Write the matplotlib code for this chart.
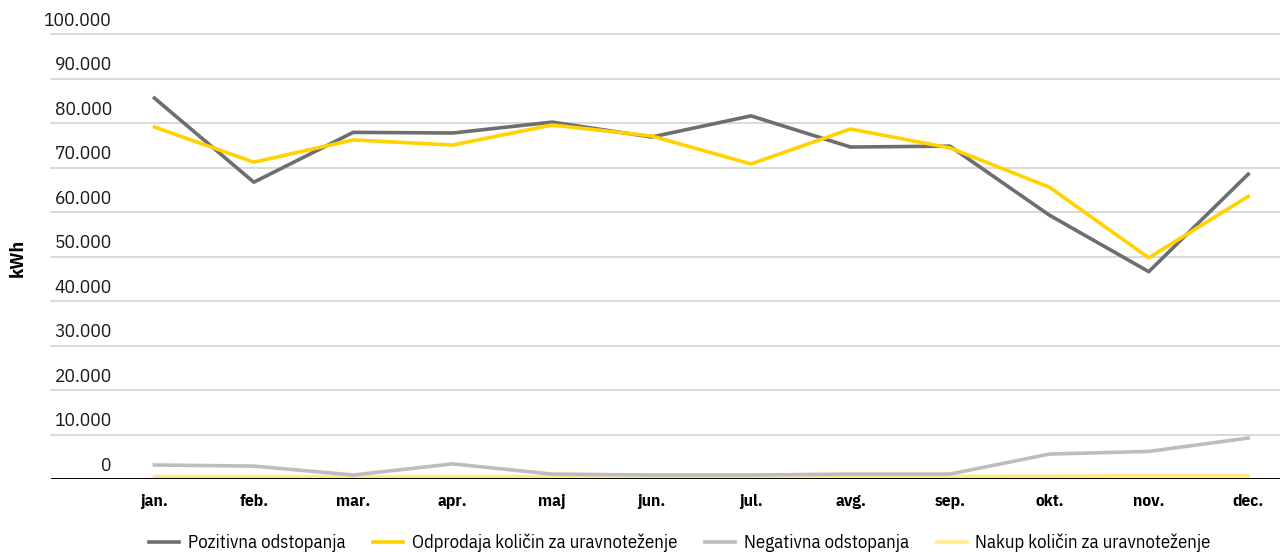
import matplotlib
matplotlib.use("Agg")
import matplotlib.pyplot as plt
import matplotlib.transforms as mtransforms

plt.rcParams['font.family'] = ['IBM Plex Sans Condensed', 'DejaVu Sans']

months = ["jan.", "feb.", "mar.", "apr.", "maj", "jun.", "jul.", "avg.", "sep.", "okt.", "nov.", "dec."]

pozitivna = [85600, 66700, 77900, 77750, 80200, 76850, 81600, 74600, 74800, 59300, 46600, 68500]
odprodaja = [79100, 71200, 76200, 75050, 79550, 77080, 70800, 78650, 74400, 65600, 49700, 63500]
negativna = [3150, 2900, 900, 3400, 1100, 900, 900, 1100, 1100, 5600, 6200, 9200]
nakup = [550, 550, 550, 550, 550, 550, 600, 600, 600, 650, 750, 750]

yticks = [0, 10000, 20000, 30000, 40000, 50000, 60000, 70000, 80000, 90000, 100000]
ytick_labels = ["0", "10.000", "20.000", "30.000", "40.000", "50.000", "60.000",
                "70.000", "80.000", "90.000", "100.000"]

fig = plt.figure(figsize=(12.8, 5.54), dpi=100)
ax = fig.add_axes([51/1280, 75/554, 1 - 51/1280, 445/554])

x = list(range(len(months)))
ax.plot(x, nakup, color="#ffe98a", lw=2.6, label="Nakup količin za uravnoteženje", zorder=3)
ax.plot(x, negativna, color="#bdbdbd", lw=2.6, label="Negativna odstopanja", zorder=3)
ax.plot(x, pozitivna, color="#6e6e6e", lw=2.6, label="Pozitivna odstopanja", zorder=4)
ax.plot(x, odprodaja, color="#ffd200", lw=2.6, label="Odprodaja količin za uravnoteženje", zorder=5)

ax.set_ylim(0, 100000)
ax.set_xlim(-1.04, 11.32)

# grid
for v in yticks[1:]:
    ax.axhline(v, color="#d3d3d3", lw=1.2, zorder=1, clip_on=False)
ax.axhline(0, color="black", lw=1.4, zorder=6)

# y labels sitting above gridlines, right edge at ~112 px
ax.set_yticks([])
lab_tr = mtransforms.blended_transform_factory(fig.transFigure, ax.transData)
for v, lab in zip(yticks, ytick_labels):
    ax.text(112/1280, v + 1000, lab, transform=lab_tr,
            ha="right", va="bottom", fontsize=14, color="#1a1a1a")

ax.set_xticks(x)
ax.set_xticklabels(months, fontsize=12.5, fontweight="bold")
ax.tick_params(axis="x", length=0, pad=11)

for s in ax.spines.values():
    s.set_visible(False)

fig.text(18/1280, 1 - 258/554, "kWh", rotation=90, ha="center", va="center",
         fontsize=14, fontweight="bold")

handles, labels = ax.get_legend_handles_labels()
order = [2, 3, 1, 0]
fig.legend([handles[i] for i in order], [labels[i] for i in order],
           loc="center", bbox_to_anchor=(680/1280, 1 - 543/554), ncol=4,
           frameon=False, fontsize=13.5, handlelength=1.6, columnspacing=1.5,
           handletextpad=0.45)

fig.savefig("out.png", dpi=100)
